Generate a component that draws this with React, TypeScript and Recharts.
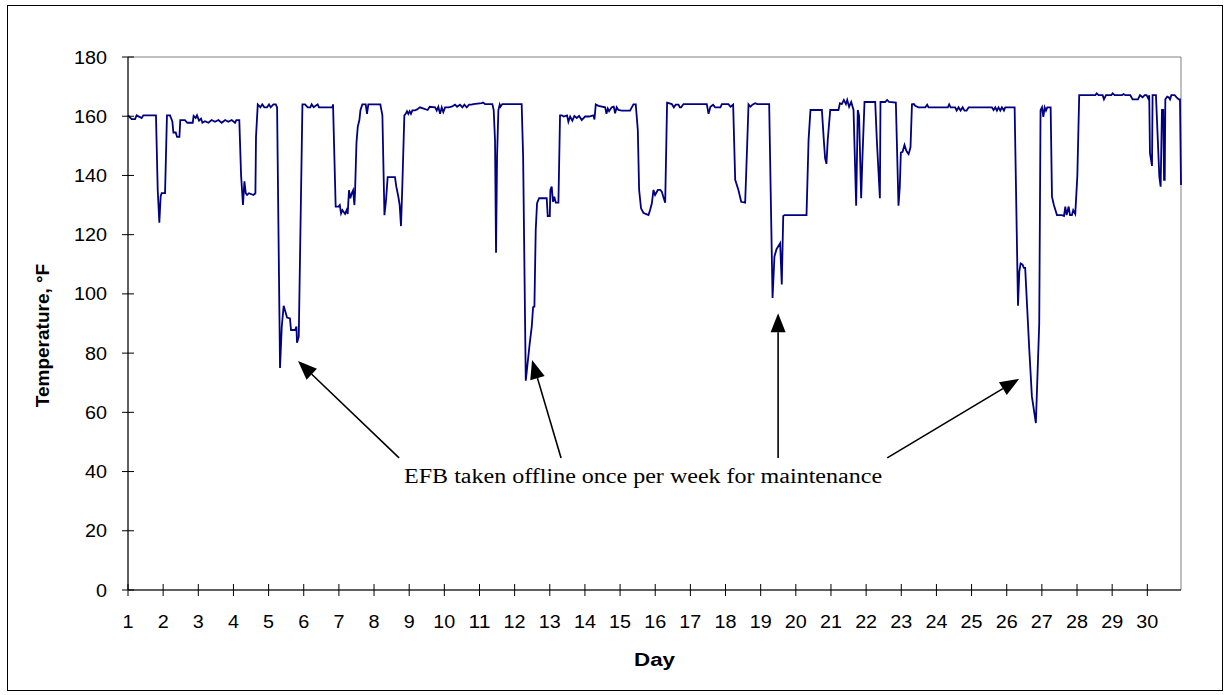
import {
  LineChart,
  Line,
  XAxis,
  YAxis,
  ReferenceArea,
  ReferenceLine,
  ReferenceDot,
} from 'recharts'

// [hour since start of day 1, temperature °F]
const week1: [number, number][] = [
  [0, 160.3], [2.5, 159], [4.8, 159], [5.9, 160.3], [9.3, 159.4], [10.5, 160.3],
  [19.1, 160.3], [20.3, 135], [21.4, 124], [22.3, 133], [23, 134], [25.3, 134],
  [26.6, 160.3], [28.7, 160.3], [30.3, 158.2], [31, 154.5], [32.6, 154.5], [33.5, 153],
  [35.1, 153], [35.7, 158.7], [38.9, 158.7], [40.5, 157.8], [44.2, 157.8], [44.8, 160.1],
  [46.2, 159.4], [47.1, 160.3], [48.5, 158.5], [49.9, 159.2], [50.8, 157.8], [52.6, 158.3],
  [54.9, 157.8], [57.1, 158.7], [59.4, 158.1], [61.7, 158.7], [64, 157.8], [66.3, 158.7],
  [68.5, 158.1], [70.8, 158.7], [73.1, 157.8], [74, 158.7], [76, 158.7], [77.2, 140.2],
  [78.5, 130], [79.5, 138], [80.4, 134], [81.3, 133.4], [82.6, 134], [85.6, 133.4],
  [87, 134], [87.4, 153], [88.6, 164], [90.4, 163], [91.7, 164], [93.1, 163],
  [94.9, 163], [96.3, 164], [97.4, 163], [99.3, 164], [100.9, 164], [101.8, 163],
  [103.8, 75], [105, 89], [106.3, 96], [108.6, 92], [110.6, 91.7], [111.3, 87.8],
  [114.1, 87.8], [115, 89], [115.4, 83.5], [116.6, 85.6], [119.1, 164], [120.9, 164],
  [122.7, 163], [124.5, 163], [125.4, 164], [126.8, 163], [129.5, 164], [130.4, 163],
  [139.6, 163], [140, 164], [141.8, 129.5], [143.7, 129.5], [144.6, 130], [145.5, 127.2],
  [146.4, 128.3], [148.2, 127], [149.3, 128.3], [150, 127], [150.9, 135], [151.8, 132.3],
  [152.8, 134], [153.7, 135], [154.6, 130], [155, 134], [156, 151], [156.9, 156.5],
  [158, 158.7], [158.7, 162], [160, 164], [162.3, 164], [163.2, 160.8], [164.1, 164],
  [172.3, 164], [173.7, 160.3], [175.1, 126.6], [176.2, 131.7], [177.3, 139.4],
]

const week2: [number, number][] = [
  [182.3, 139.4], [183.2, 136.2], [184.6, 132.8], [185.5, 130], [186.4, 122.9], [187.3, 136.2],
  [188.7, 160.3], [189.6, 160.8], [190.5, 161.7], [191.4, 160.8], [192.3, 161.7], [193.2, 160.8],
  [194.2, 162], [196, 162], [197.4, 162.3], [199.4, 163], [204.6, 162.1], [206, 163.2],
  [209.7, 163], [210.8, 161.9], [211.9, 163.2], [213.1, 160.8], [214.2, 163], [215.3, 161.4],
  [216.5, 163], [218.8, 163], [221, 163.2], [223.3, 163.9], [224.7, 163.2], [226.7, 163.9],
  [228.3, 163], [229.7, 163.9], [231.3, 163], [232.9, 163.9], [234.7, 163.9], [235.8, 164.1],
  [241.5, 164.4], [242.4, 164.6], [243.8, 164.1], [248.8, 164.1], [249.7, 162.1], [250.6, 152],
  [251.3, 113.9], [252, 146.3], [252.9, 162.1], [253.8, 163.9], [254.3, 163.2], [255.6, 164.1],
  [268.8, 164.1], [269.8, 146.3], [271.6, 70.7], [274.3, 83.3], [275.7, 89], [276.6, 95.5],
  [277.5, 95.7], [278.4, 121.6], [279.3, 130.6], [280.7, 132.3], [285.9, 132.3], [286.6, 126.3],
  [288, 126.3], [288.4, 135.1], [289.3, 136.2], [290.2, 131.1], [291.1, 132.8], [292.1, 130.8],
  [293.9, 130.8], [295, 160.3], [296.2, 160.3], [297.5, 159.9], [299.8, 160.3], [300.7, 158.1],
  [301.9, 159.9], [303.4, 158.5], [304.8, 160.1], [306.4, 159.4], [308, 160.1], [309.8, 158.7],
  [312.1, 159.9], [314.8, 159.9], [317.8, 160.3], [318.5, 158.9], [319.4, 164], [321.2, 163.5],
  [325.8, 163], [326.7, 160.8], [327.6, 162.6], [328.5, 161.7], [330.3, 163], [331.7, 163.2],
  [332.6, 161], [333.7, 163], [334.8, 162.1], [337.1, 161.9], [342.8, 161.9], [345.1, 164],
  [346.7, 164], [348.1, 155.4], [349, 135.1], [350.3, 128.9], [351.9, 127.4], [353.5, 127],
]

const week3: [number, number][] = [
  [355.4, 126.6], [356.5, 128.3], [357.7, 130.6], [358.8, 135.1], [359.9, 133.4], [361.8, 135.1],
  [363.4, 135.1], [364.5, 134.5], [365.8, 132.3], [366.8, 130.8], [368.1, 164.6], [371.3, 164.1],
  [372.7, 163], [374, 163.9], [375.9, 163.9], [376.8, 163], [377.7, 163], [379.3, 164.1],
  [395.2, 164.1], [396.4, 160.8], [397.7, 163.2], [399.5, 163.9], [400.9, 163], [404.5, 163],
  [405.5, 164.1], [410, 164.1], [411.4, 163.2], [413.2, 163.9], [414.6, 138.5], [416.8, 135.1],
  [418.7, 131.1], [421.4, 130.8], [422.5, 146.3], [423.7, 164], [425, 163.2], [426.4, 163.9],
  [428.2, 164.4], [429.6, 164.1], [437.8, 164.1], [440.1, 98.6], [441.4, 112.6], [442.8, 115.1],
  [445.3, 117.1], [446.4, 103.2], [447.4, 126.3], [448.3, 126.6], [463.3, 126.6], [464.7, 152],
  [466, 162.1], [473.8, 162.1], [475.1, 152], [476, 145.8], [476.9, 143.9], [477.8, 152],
  [479.5, 162.1], [485.1, 162.1], [486.1, 164.4], [487.4, 164.1], [488.8, 165.5], [490.2, 164.1],
  [491.1, 165.5], [492.4, 163.2], [493.8, 164.8], [495.4, 162.1], [497.2, 129.8], [498.3, 162.1],
  [499.2, 160.1], [500.6, 132.3], [501.5, 146.3], [502.9, 164.8], [510.2, 164.8], [511.3, 152],
  [513.4, 132.3], [513.8, 164.8], [517, 164.8], [518.4, 165.5], [519.7, 164.8], [524.3, 164.6],
  [526.1, 129.8], [527, 136.2], [527.7, 147.7], [528.9, 148], [530.2, 150.3], [531.4, 148.4],
  [532.5, 147.5],
]

const week4: [number, number][] = [
  [533, 147.2], [534.3, 149.5], [535.3, 164], [536.6, 164.1], [537.5, 163.5], [539.8, 163],
  [544.4, 163], [545.7, 163.9], [546.6, 163], [559.8, 163], [560.7, 164], [561.7, 163],
  [564.8, 163], [565.8, 161.9], [567.1, 163], [568.5, 161.9], [569.9, 163], [571.2, 161.9],
  [572.6, 161.9], [574, 163], [589.9, 163], [591, 162.1], [592.2, 163], [593.3, 161.9],
  [594.4, 163], [595.6, 161.9], [596.7, 163], [598.1, 161.9], [599, 163], [605.4, 163],
  [607.7, 96], [608.6, 107.5], [609.5, 110.3], [610.8, 109.9], [611.7, 108.8], [612.6, 108.8],
  [615.4, 81.2], [617.2, 65.3], [619.9, 56.4], [622.2, 90], [623.1, 162], [624.1, 163],
  [625, 159.8], [625.9, 163], [626.8, 161.9], [627.7, 163], [630, 163], [630.9, 132.8],
  [632.2, 130], [634.3, 126.6], [637.7, 126.6], [639.1, 126.3], [640, 129.5], [640.9, 126.6],
  [642.3, 129.5], [643.2, 126.6], [644.5, 126.6], [645.4, 128.3], [646.8, 127], [648.2, 139.6],
  [649.5, 167.1], [660.5, 167.1], [661.4, 167.7], [662.7, 167.1], [665.5, 167.1], [666.4, 165.7],
  [667.8, 167.1], [671.4, 167.1], [672.3, 167.7], [673.7, 167.1], [678.7, 167.1], [679.8, 167.5],
  [681, 167.1], [684.4, 167.1], [686, 165.7], [689.6, 165.7], [691, 167.1], [692.8, 166.4],
  [694.2, 167.1], [695.5, 167.1], [696.9, 165.7], [697.3, 167.1], [697.8, 147.5], [699.2, 143.2],
  [699.6, 167.1], [701.9, 167.1], [704.2, 139.6], [705.1, 136.2], [706, 162.1], [706.9, 162.1],
  [707.4, 138.5], [707.9, 138.5], [708.3, 165.7], [709.6, 166.6], [710.6, 166.4], [711.5, 165.7],
  [712.4, 167.1], [714.7, 167.1], [716, 166.4], [717.4, 165.7], [718.3, 165.7], [719, 136.8],
]

const dayLabels = [
  1, 2, 3, 4, 5, 6, 7, 8, 9, 10, 11, 12, 13, 14, 15,
  16, 17, 18, 19, 20, 21, 22, 23, 24, 25, 26, 27, 28, 29, 30,
]
const tempTicks = [0, 20, 40, 60, 80, 100, 120, 140, 160, 180]

// arrows: [hour, °F] of tail and tip
const arrowTails: [number, number][] = [[185.1, 44.6], [295.7, 44.6], [443.9, 44.6], [518.4, 44.6]]
const arrowTips: [number, number][] = [[116.1, 77.3], [275.9, 77.7], [443.9, 93.5], [608.5, 71.3]]
const noteText = 'EFB taken offline once per week for maintenance'
const notePos: [number, number] = [351.7, 38.5]

const data = [...week1, ...week2, ...week3, ...week4].map(([h, t]) => ({ h, t }))
const hourTicks = dayLabels.map(d => (d - 1) * 24)

const sans = '"Liberation Sans", Arial, sans-serif'
const serif = '"Liberation Serif", "Times New Roman", serif'

// the source figure is a little stretched sideways, so widen the digits a bit
const digitWidth = 11

function YTick({ x, y, payload }: any) {
  const label = String(payload.value)
  return (
    <g>
      <line x1={x - 6} x2={x + 6} y1={y} y2={y} stroke="#000" />
      <text
        x={x - 21}
        y={y}
        dy={6.5}
        textAnchor="end"
        fontSize={18}
        fontFamily={sans}
        fill="#000"
        textLength={label.length * digitWidth}
        lengthAdjust="spacingAndGlyphs"
      >
        {label}
      </text>
    </g>
  )
}

function XTick({ x, y, payload }: any) {
  const label = String(payload.value / 24 + 1)
  return (
    <g>
      <line x1={x} x2={x} y1={y - 6} y2={y + 6} stroke="#000" />
      <text
        x={x}
        y={y + 37.5}
        textAnchor="middle"
        fontSize={18}
        fontFamily={sans}
        fill="#000"
        textLength={label.length * digitWidth}
        lengthAdjust="spacingAndGlyphs"
      >
        {label}
      </text>
    </g>
  )
}

function Arrow(props: any) {
  const { x1, y1, x2, y2 } = props
  const ang = Math.atan2(y2 - y1, x2 - x1)
  const len = 19
  const half = 7.5
  const bx = x2 - len * Math.cos(ang)
  const by = y2 - len * Math.sin(ang)
  const px = -Math.sin(ang) * half
  const py = Math.cos(ang) * half
  return (
    <g>
      <line x1={x1} y1={y1} x2={bx} y2={by} stroke="#000" strokeWidth={1.6} />
      <polygon points={`${x2},${y2} ${bx + px},${by + py} ${bx - px},${by - py}`} fill="#000" />
    </g>
  )
}

export default function App() {
  return (
    <div
      style={{
        position: 'absolute',
        left: 7,
        top: 5,
        boxSizing: 'border-box',
        width: 1216,
        height: 686,
        border: '1px solid #000',
        background: '#fff',
      }}
    >
      <LineChart width={1214} height={684} data={data} margin={{ top: 51, right: 41, bottom: 40, left: 0 }}>
        <ReferenceArea x1={0} x2={719} y1={0} y2={180} fill="none" stroke="#808080" />
        <XAxis
          dataKey="h"
          type="number"
          domain={[0, 719]}
          ticks={hourTicks}
          interval={0}
          height={60}
          tickSize={0}
          tickMargin={0}
          tickLine={false}
          axisLine={{ stroke: '#000' }}
          tick={(p: any) => <XTick {...p} />}
          label={{
            content: ({ viewBox }: any) => (
              <text
                x={viewBox.x + viewBox.width / 2}
                y={659.5}
                textAnchor="middle"
                fontSize={18}
                fontWeight="bold"
                fontFamily={sans}
                textLength={41}
                lengthAdjust="spacingAndGlyphs"
              >
                Day
              </text>
            ),
          }}
        />
        <YAxis
          domain={[0, 180]}
          ticks={tempTicks}
          interval={0}
          width={120}
          tickSize={0}
          tickMargin={0}
          tickLine={false}
          axisLine={{ stroke: '#000' }}
          tick={(p: any) => <YTick {...p} />}
          label={{
            content: ({ viewBox }: any) => (
              <text
                x={34}
                y={viewBox.y + viewBox.height / 2 + 12}
                transform={`rotate(-90 34 ${viewBox.y + viewBox.height / 2 + 12})`}
                textAnchor="middle"
                dominantBaseline="central"
                fontSize={19}
                fontWeight="bold"
                fontFamily={sans}
              >
                Temperature, °F
              </text>
            ),
          }}
        />
        <Line
          type="linear"
          dataKey="t"
          stroke="#000080"
          strokeWidth={1.8}
          dot={false}
          isAnimationActive={false}
        />
        {arrowTails.map((tail, i) => (
          <ReferenceLine
            key={i}
            segment={[
              { x: tail[0], y: tail[1] },
              { x: arrowTips[i][0], y: arrowTips[i][1] },
            ]}
            shape={(p: any) => <Arrow {...p} />}
          />
        ))}
        <ReferenceDot
          x={notePos[0]}
          y={notePos[1]}
          r={0}
          shape={(p: any) => (
            <text
              x={p.cx}
              y={p.cy + 7}
              textAnchor="middle"
              fontSize={20}
              fontFamily={serif}
              fill="#000"
              textLength={478}
              lengthAdjust="spacingAndGlyphs"
            >
              {noteText}
            </text>
          )}
        />
      </LineChart>
    </div>
  )
}
